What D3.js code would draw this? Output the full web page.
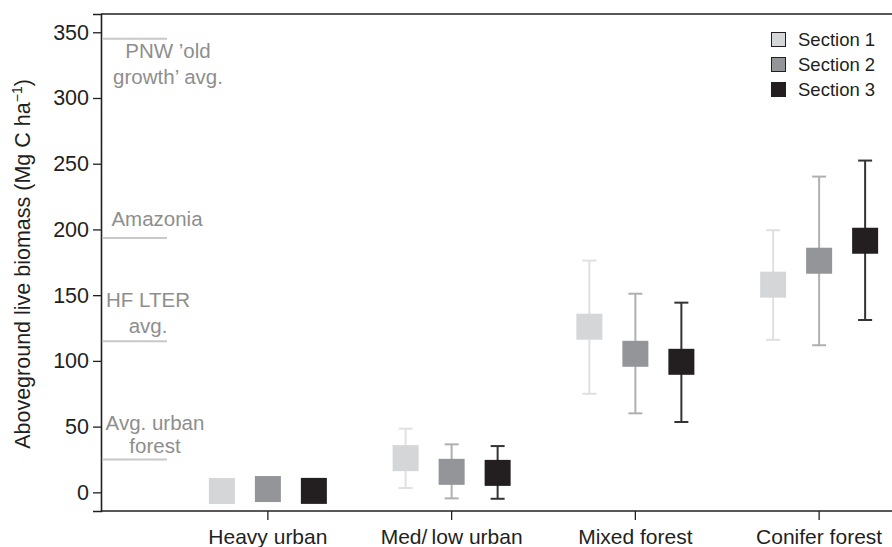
<!DOCTYPE html>
<html>
<head>
<meta charset="utf-8">
<script src="https://cdn.jsdelivr.net/npm/d3@7"></script>
<style>
  body { margin: 0; background: #fff; }
  svg text { font-family: "Liberation Sans", Arial, Helvetica, sans-serif; }
</style>
</head>
<body>
<svg id="chart" width="892" height="547"></svg>
<script>
// data
var categories = ["Heavy urban", "Med/low urban", "Mixed forest", "Conifer forest"];
var sections = ["Section 1", "Section 2", "Section 3"];
var yTicks = [0, 50, 100, 150, 200, 250, 300, 350];

// mean biomass per category, one array per section
var section1Mean = [1, 26, 126, 158];
var section2Mean = [2.5, 15.6, 105.4, 176.2];
var section3Mean = [1.1, 14.8, 99.3, 191.4];
// error bar ends
var section1Low = [-3, 3.3, 75, 116];
var section1High = [5, 48.4, 176.3, 199.4];
var section2Low = [-1, -4.6, 60.1, 111.9];
var section2High = [6, 36.5, 151.1, 240.2];
var section3Low = [-3, -4.9, 53.5, 131.1];
var section3High = [5, 35.2, 144.3, 252.4];

// reference levels
var refNames = ["PNW", "Amazonia", "HF LTER", "Urban"];
var refValues = [345, 193.5, 115, 25];
var refLabels = [["PNW \u2019old", "growth\u2019 avg."], ["Amazonia"], ["HF LTER", "avg."], ["Avg. urban", "forest"]];

var means = [section1Mean, section2Mean, section3Mean];
var lows = [section1Low, section2Low, section3Low];
var highs = [section1High, section2High, section3High];

var fills = ["#d5d6d8", "#939598", "#231f20"];
var whiskerColors = ["#e0e0e0", "#b0b0b0", "#333333"];

var svg = d3.select("#chart");
var padL = 101, padT = 14, padR = 892, padB = 511;

var y = d3.scaleLinear().domain([-14.2, 363.9]).range([padB, padT]);
var x = d3.scaleBand().domain(categories).range([176, 911]).padding(0);
var xInner = d3.scaleBand().domain(sections).range([-69, 69]).padding(0);

// frame: top line
svg.append("line")
  .attr("x1", padL).attr("x2", padR)
  .attr("y1", padT).attr("y2", padT)
  .attr("stroke", "#231f20").attr("stroke-width", 1.6);

// y axis
var yAxis = svg.append("g")
  .attr("transform", "translate(" + padL + ",0)")
  .call(d3.axisLeft(y).tickValues(yTicks).tickSize(8).tickPadding(4));
yAxis.select(".domain").attr("stroke", "#231f20").attr("stroke-width", 1.6);
yAxis.selectAll(".tick line").attr("stroke", "#231f20").attr("stroke-width", 1.3);
yAxis.selectAll(".tick text")
  .attr("font-size", 21.5).attr("fill", "#231f20")
  .style("font-family", "'Liberation Sans', Arial, sans-serif");

// x axis
var xAxis = svg.append("g")
  .attr("transform", "translate(0," + padB + ")")
  .call(d3.axisBottom(x).tickSize(9).tickPadding(9).tickSizeOuter(0));
xAxis.select(".domain").attr("d", "M" + padL + ",0H" + padR).attr("stroke", "#231f20").attr("stroke-width", 1.6);
xAxis.selectAll(".tick line").attr("stroke", "#231f20").attr("stroke-width", 1.3);
xAxis.selectAll(".tick text")
  .attr("font-size", 21).attr("fill", "#231f20")
  .style("font-family", "'Liberation Sans', Arial, sans-serif");
xAxis.selectAll(".tick").filter(function(d) { return d === "Med/low urban"; })
  .select("text").text("Med/\u2009low urban");

// y axis title
var yTitle = svg.append("text")
  .attr("transform", "translate(30,264) rotate(-90)")
  .attr("text-anchor", "middle")
  .attr("font-size", 21.5)
  .attr("fill", "#231f20");
yTitle.append("tspan").text("Aboveground live biomass (Mg C ha");
yTitle.append("tspan").attr("font-size", 14).attr("dy", -8).text("\u22121");
yTitle.append("tspan").attr("dy", 8).text(")");

// reference lines with labels
var refLabelX = [168, 157, 148, 155];
var refLabelDy = [[19, 45], [-12], [-34, -8], [-29, -6]];
refValues.forEach(function(v, i) {
  svg.append("line")
    .attr("x1", padL + 1).attr("x2", 167)
    .attr("y1", y(v)).attr("y2", y(v))
    .attr("stroke", "#c8c8c8").attr("stroke-width", 2);
  refLabels[i].forEach(function(t, j) {
    svg.append("text")
      .attr("x", refLabelX[i])
      .attr("y", y(v) + refLabelDy[i][j])
      .attr("text-anchor", "middle")
      .attr("font-size", 20.5)
      .attr("fill", "#8e8e8e")
      .text(t);
  });
});

// error bars and boxes
var boxSize = 26, capW = 14;
sections.forEach(function(s, k) {
  var g = svg.append("g");
  categories.forEach(function(c, i) {
    var cx = x(c) + x.bandwidth() / 2 + xInner(s) + xInner.bandwidth() / 2;
    g.append("line")
      .attr("x1", cx).attr("x2", cx)
      .attr("y1", y(lows[k][i])).attr("y2", y(highs[k][i]))
      .attr("stroke", whiskerColors[k]).attr("stroke-width", 2);
    [lows[k][i], highs[k][i]].forEach(function(v) {
      g.append("line")
        .attr("x1", cx - capW / 2).attr("x2", cx + capW / 2)
        .attr("y1", y(v)).attr("y2", y(v))
        .attr("stroke", whiskerColors[k]).attr("stroke-width", 2);
    });
    g.append("rect")
      .attr("x", cx - boxSize / 2)
      .attr("y", y(means[k][i]) - boxSize / 2)
      .attr("width", boxSize).attr("height", boxSize)
      .attr("fill", fills[k]);
  });
});

// legend
var legend = svg.append("g").attr("transform", "translate(771,32)");
sections.forEach(function(s, k) {
  legend.append("rect")
    .attr("x", 0.5).attr("y", k * 25 + 0.5)
    .attr("width", 14).attr("height", 14)
    .attr("fill", fills[k]).attr("stroke", "#231f20").attr("stroke-width", 1);
  legend.append("text")
    .attr("x", 27).attr("y", k * 25 + 14)
    .attr("font-size", 18.5).attr("fill", "#231f20")
    .text(s);
});
</script>
</body>
</html>
